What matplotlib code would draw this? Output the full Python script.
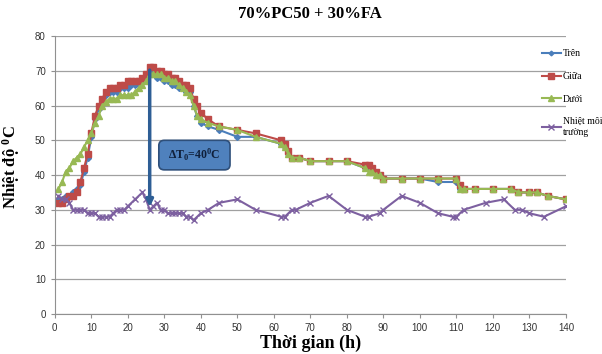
import matplotlib.pyplot as plt
from matplotlib.patches import FancyBboxPatch

# time axis (h) shared by the three concrete sensors
t = [1, 2, 3, 4, 5, 6, 7, 8, 9, 10, 11, 12, 13, 14, 15, 16, 17, 18, 19, 20,
     21, 22, 23, 24, 25, 26, 27, 28, 29, 30, 31, 32, 33, 34, 35, 36, 37, 38,
     39, 40, 42, 45, 50, 55, 62, 63, 64, 65, 67, 70, 75, 80, 85, 86, 87, 88,
     89, 90, 95, 100, 105, 110, 111, 112, 115, 120, 125, 127, 130, 132, 135, 140]

tren = [33, 33, 34, 34, 35, 36, 37, 41, 45, 51, 56, 59, 61, 63, 64, 64, 64, 65, 65, 65,
        66, 66, 66, 67, 68, 70, 69, 68, 68, 67, 67, 66, 66, 65, 65, 64, 64, 60,
        57, 55, 54, 53, 51, 51, 49, 48, 46, 45, 45, 44, 44, 44, 42, 42, 42, 41,
        40, 39, 39, 39, 38, 38, 36, 36, 36, 36, 36, 35, 35, 35, 34, 33]

giua = [32, 32, 33, 34, 34, 35, 38, 42, 46, 52, 57, 60, 62, 64, 65, 65, 65, 66, 66, 67,
        67, 67, 67, 68, 69, 71, 71, 70, 70, 69, 69, 68, 68, 67, 66, 66, 65, 62,
        60, 58, 56, 54, 53, 52, 50, 49, 47, 45, 45, 44, 44, 44, 43, 43, 42, 41,
        40, 39, 39, 39, 39, 39, 37, 36, 36, 36, 36, 35, 35, 35, 34, 33]

duoi = [36, 38, 41, 42, 44, 45, 46, 48, 50, 52, 55, 57, 60, 61, 62, 62, 62, 63, 63, 63,
        63, 64, 65, 66, 67, 69, 69, 69, 69, 68, 68, 67, 67, 66, 65, 64, 63, 60,
        57, 56, 55, 54, 53, 51, 49, 48, 46, 45, 45, 44, 44, 44, 42, 41, 41, 40,
        40, 39, 39, 39, 39, 39, 36, 36, 36, 36, 36, 35, 35, 35, 34, 33]

# ambient temperature
t_env = [1, 2, 3, 4, 5, 6, 7, 8, 9, 10, 11, 12, 13, 14, 15, 16, 17, 18, 19, 20,
         22, 24, 25, 26, 27, 28, 29, 30, 31, 32, 33, 34, 35, 36, 37, 38, 40, 42,
         45, 50, 55, 62, 63, 65, 66, 70, 75, 80, 85, 86, 89, 90, 95, 100, 105,
         109, 110, 112, 118, 123, 126, 128, 130, 134, 140]
env = [34, 33, 33, 32, 30, 30, 30, 30, 29, 29, 29, 28, 28, 28, 28, 29, 30, 30, 30, 31,
       33, 35, 33, 30, 31, 32, 30, 30, 29, 29, 29, 29, 29, 28, 28, 27, 29, 30,
       32, 33, 30, 28, 28, 30, 30, 32, 34, 30, 28, 28, 29, 30, 34, 32, 29,
       28, 28, 30, 32, 33, 30, 30, 29, 28, 31]

c_blue = '#4A7EBB'
c_red = '#BE4B48'
c_green = '#98B954'
c_purple = '#7D60A0'

plt.rcParams['font.family'] = ['Liberation Serif', 'DejaVu Serif']
plt.rcParams['mathtext.default'] = 'regular'

fig = plt.figure(figsize=(6.02, 3.54), dpi=100)
ax = fig.add_axes([0.091, 0.113, 0.849, 0.785])

ax.plot(t, tren, color=c_blue, marker='D', ms=3, lw=1.5, label='Trên')
ax.plot(t, giua, color=c_red, marker='s', ms=5, lw=1.5, label='Giữa')
ax.plot(t, duoi, color=c_green, marker='^', ms=5, lw=1.5, label='Dưới')
ax.plot(t_env, env, color=c_purple, marker='x', ms=5, mew=1, lw=1.5,
        label='Nhiệt môi\ntrường')

# delta T arrow
ax.annotate('', xy=(26, 30), xytext=(26, 71),
            arrowprops=dict(arrowstyle='-|>', color='#2E5E95', lw=2.5,
                            mutation_scale=10))
box = FancyBboxPatch((28.5, 41.5), 19.5, 8.5,
                     boxstyle='round,pad=0,rounding_size=1.5',
                     fc='#4F81BD', ec='#2E4F7A', lw=1.2, zorder=5)
ax.add_patch(box)
ax.text(38.25, 45.8, 'ΔT$_0$=40$^0$C', ha='center', va='center',
        fontsize=8.5, fontweight='bold', color='#0F1F3A', zorder=6)

ax.set_xlim(0, 140)
ax.set_ylim(0, 80)
ax.set_xticks(range(0, 141, 10))
ax.set_yticks(range(0, 81, 10))
ax.yaxis.grid(True, color='#A0A0A0', lw=0.9)
ax.set_axisbelow(True)
for s in ['top', 'right']:
    ax.spines[s].set_visible(False)
for s in ['left', 'bottom']:
    ax.spines[s].set_color('#909090')
ax.tick_params(colors='#909090', labelcolor='#333333', labelsize=7,
               length=3, direction='out')
for lab in ax.get_xticklabels() + ax.get_yticklabels():
    lab.set_family('Liberation Sans')

ax.set_title('70%PC50 + 30%FA', fontsize=12, fontweight='bold', pad=13)
ax.set_xlabel('Thời gian (h)', fontsize=13, fontweight='bold', labelpad=1)
ax.set_ylabel('Nhiệt độ $^0$C', fontsize=12, fontweight='bold')
ax.yaxis.set_label_coords(-0.065, 0.53)

fig.legend(loc='upper left', bbox_to_anchor=(0.885, 0.885), frameon=False,
           fontsize=7, handlelength=2, handletextpad=0.2, labelspacing=1.4,
           markerscale=0.8)

fig.savefig('out.png', dpi=100)
